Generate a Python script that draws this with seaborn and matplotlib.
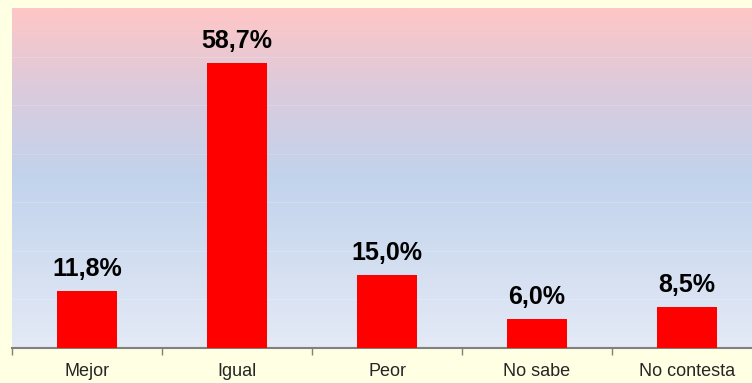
import numpy as np
import pandas as pd
import matplotlib
matplotlib.use("Agg")
import matplotlib.pyplot as plt
from matplotlib.colors import LinearSegmentedColormap
import seaborn as sns

# data
categories = ["Mejor", "Igual", "Peor", "No sabe", "No contesta"]
values = [11.8, 58.7, 15.0, 6.0, 8.5]
labels = ["11,8%", "58,7%", "15,0%", "6,0%", "8,5%"]

sns.set_style("white")
plt.rcParams["font.family"] = ["Liberation Sans", "DejaVu Sans"]

W, H = 752, 383
fig = plt.figure(figsize=(W / 100, H / 100), dpi=100)
fig.patch.set_facecolor("#FFFFE3")

# plot area extends past the right edge of the picture
ax = fig.add_axes([12 / W, 35 / H, 750 / W, 340 / H])

df = pd.DataFrame({"cat": categories, "val": values})
sns.barplot(data=df, x="cat", y="val", color="#FF0000", width=0.4,
            saturation=1, edgecolor="none", ax=ax, zorder=3)

ax.set_ylim(0, 70)
ax.set_xlim(-0.5, 4.5)

# background gradient
cmap = LinearSegmentedColormap.from_list(
    "bg", [(0.0, "#E4EAF6"), (0.5, "#C2D3EC"), (0.75, "#DACBDD"), (1.0, "#FFC6C6")])
grad = np.linspace(0, 1, 256).reshape(-1, 1)
ax.imshow(grad, cmap=cmap, aspect="auto", origin="lower",
          extent=[-0.5, 4.5, 0, 70], zorder=0)

# faint gridlines
for yv in range(10, 70, 10):
    ax.axhline(yv, color="white", lw=0.8, alpha=0.18, zorder=1)

for i, (v, lab) in enumerate(zip(values, labels)):
    ax.annotate(lab, (i, v), xytext=(0, 7), textcoords="offset points",
                ha="center", va="bottom", fontsize=18, fontweight="bold",
                color="black", zorder=4)

for s in ["top", "right", "left"]:
    ax.spines[s].set_visible(False)
ax.spines["bottom"].set_color("#808080")
ax.spines["bottom"].set_linewidth(1.5)

ax.set_yticks([])
ax.set_xlabel("")
ax.set_ylabel("")
ax.set_xticks(range(len(categories)))
ax.set_xticklabels(categories, fontsize=13)
ax.set_xticks(np.arange(-0.5, 5.0, 1.0), minor=True)
ax.tick_params(axis="x", which="major", length=0, pad=10.5)
ax.tick_params(axis="x", which="minor", length=5, width=1, color="#808080",
               direction="out", bottom=True)

fig.savefig("out.png", dpi=100)
